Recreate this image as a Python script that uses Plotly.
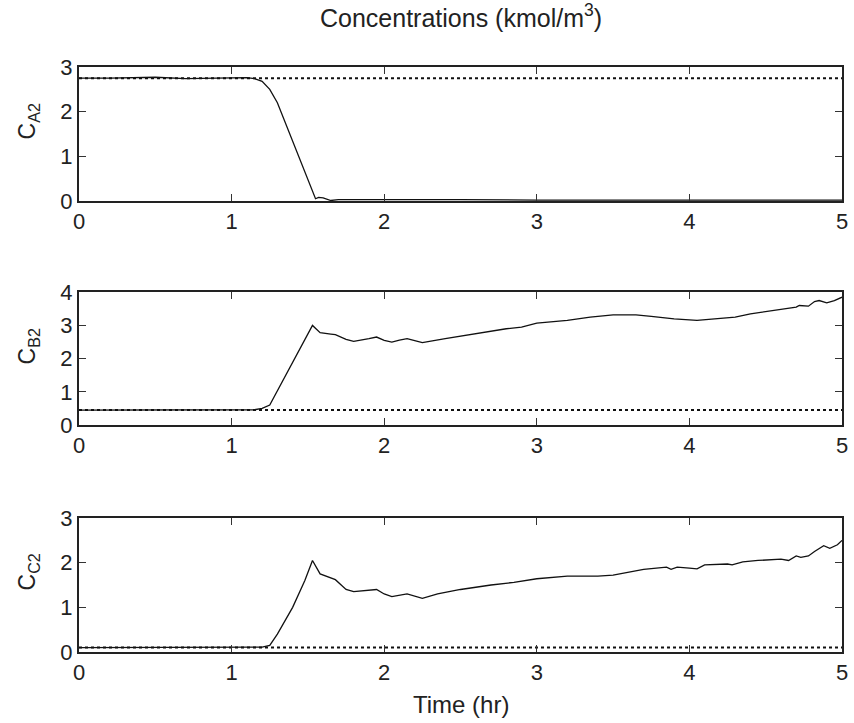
import plotly.graph_objects as go

# ---- data ----
t_a = [0, 0.2, 0.5, 0.7, 0.9, 1.1, 1.15, 1.2, 1.25, 1.3, 1.55, 1.57, 1.6, 1.65, 1.7, 2.0, 2.2, 2.5, 3.0, 3.5, 4.0, 4.5, 5.0]
c_a2 = [2.75, 2.75, 2.77, 2.74, 2.75, 2.76, 2.74, 2.68, 2.5, 2.2, 0.05, 0.08, 0.07, 0.01, 0.03, 0.03, 0.04, 0.03, 0.02, 0.02, 0.01, 0.02, 0.02]
sp_a2 = 2.75

t_b = [0, 0.5, 1.0, 1.15, 1.2, 1.25, 1.53, 1.58, 1.65, 1.68, 1.75, 1.8, 1.9, 1.95, 2.0, 2.05, 2.1, 2.15, 2.2, 2.25, 2.4, 2.6, 2.8, 2.9, 3.0, 3.2, 3.35, 3.5, 3.65, 3.75, 3.85, 3.9, 4.05, 4.2, 4.3, 4.4, 4.55, 4.65, 4.7, 4.72, 4.78, 4.82, 4.85, 4.9, 4.95, 5.0]
c_b2 = [0.45, 0.45, 0.45, 0.46, 0.5, 0.6, 3.0, 2.78, 2.74, 2.72, 2.58, 2.52, 2.6, 2.65, 2.55, 2.5, 2.56, 2.6, 2.54, 2.48, 2.6, 2.75, 2.9, 2.95, 3.07, 3.15, 3.25, 3.32, 3.32, 3.27, 3.22, 3.2, 3.15, 3.2, 3.25, 3.35, 3.45, 3.5, 3.55, 3.6, 3.58, 3.72, 3.75, 3.68, 3.75, 3.85]
sp_b2 = 0.45

t_c = [0, 0.5, 1.0, 1.2, 1.25, 1.3, 1.4, 1.48, 1.53, 1.58, 1.68, 1.75, 1.8, 1.9, 1.95, 2.0, 2.05, 2.15, 2.2, 2.25, 2.35, 2.5, 2.7, 2.85, 3.0, 3.2, 3.4, 3.5, 3.7, 3.85, 3.88, 3.92, 4.0, 4.05, 4.1, 4.25, 4.28, 4.35, 4.45, 4.6, 4.65, 4.7, 4.73, 4.78, 4.82, 4.88, 4.92, 4.97, 5.0]
c_c2 = [0.1, 0.1, 0.1, 0.11, 0.15, 0.4, 1.0, 1.6, 2.05, 1.75, 1.62, 1.4, 1.35, 1.38, 1.4, 1.3, 1.24, 1.3, 1.25, 1.2, 1.3, 1.4, 1.5, 1.56, 1.64, 1.7, 1.7, 1.72, 1.85, 1.9, 1.85, 1.9, 1.88, 1.86, 1.95, 1.97, 1.95, 2.02, 2.05, 2.08, 2.05, 2.15, 2.12, 2.15, 2.25, 2.38, 2.32, 2.4, 2.5]
sp_c2 = 0.1

y_ranges = [[0, 3], [0, 4], [0, 3]]
y_ticks = [[0, 1, 2, 3], [0, 1, 2, 3, 4], [0, 1, 2, 3]]
x_ticks = [0, 1, 2, 3, 4, 5]
y_labels = ["C<sub>A2</sub>", "C<sub>B2</sub>", "C<sub>C2</sub>"]

FONT = "Liberation Sans, Arial, Helvetica, sans-serif"
TXT = "#222222"

fig = go.Figure()
series = [(t_a, c_a2, sp_a2), (t_b, c_b2, sp_b2), (t_c, c_c2, sp_c2)]
domains = [[0.771, 1.0], [0.388, 0.615], [0.0, 0.229]]
for i, (tt, cc, sp) in enumerate(series):
    xa = "x" if i == 0 else f"x{i+1}"
    ya = "y" if i == 0 else f"y{i+1}"
    fig.add_trace(go.Scatter(x=[0, 5], y=[sp, sp], mode="lines",
                             line=dict(color="#111111", width=2, dash="3px,3px"),
                             xaxis=xa, yaxis=ya, showlegend=False))
    fig.add_trace(go.Scatter(x=tt, y=cc, mode="lines",
                             line=dict(color="#111111", width=1.3),
                             xaxis=xa, yaxis=ya, showlegend=False))

layout = dict(
    width=854, height=723,
    margin=dict(l=79, r=6, t=67, b=71),
    paper_bgcolor="white", plot_bgcolor="white",
    font=dict(family=FONT, size=22, color=TXT),
)
for i in range(3):
    xk = "xaxis" if i == 0 else f"xaxis{i+1}"
    yk = "yaxis" if i == 0 else f"yaxis{i+1}"
    layout[xk] = dict(domain=[0, 1], range=[0, 5], tickvals=x_ticks,
                      ticks="inside", ticklen=7, tickcolor="#333333", tickwidth=1,
                      showline=True, linecolor="#222222", linewidth=2,
                      mirror="allticks", showgrid=False, zeroline=False,
                      anchor="y" if i == 0 else f"y{i+1}",
                      tickfont=dict(family=FONT, size=22, color=TXT))
    layout[yk] = dict(domain=domains[i], range=y_ranges[i], tickvals=y_ticks[i],
                      ticks="inside", ticklen=7, tickcolor="#333333", tickwidth=1,
                      showline=True, linecolor="#222222", linewidth=2,
                      mirror="allticks", showgrid=False, zeroline=False,
                      anchor="x" if i == 0 else f"x{i+1}",
                      tickfont=dict(family=FONT, size=22, color=TXT))
fig.update_layout(**layout)

annotations = [
    dict(text="Concentrations (kmol/m<sup>3</sup>)", x=0.5, y=(652 - 16) / 585,
         xref="paper", yref="paper", xanchor="center", yanchor="middle",
         showarrow=False, font=dict(family=FONT, size=25, color=TXT)),
    dict(text="Time (hr)", x=0.5, y=(652 - 704) / 585, xref="paper", yref="paper",
         xanchor="center", yanchor="middle",
         showarrow=False, font=dict(family=FONT, size=24, color=TXT)),
]
centers_px = [121, 346, 572]
for lab, cy in zip(y_labels, centers_px):
    yp = (652 - cy) / 585
    annotations.append(dict(text=lab, x=(28 - 79) / 769, y=yp, xref="paper", yref="paper",
                            xanchor="center", yanchor="middle",
                            textangle=-90, showarrow=False,
                            font=dict(family=FONT, size=23, color=TXT)))
fig.update_layout(annotations=annotations)

fig.write_html("out.html")
